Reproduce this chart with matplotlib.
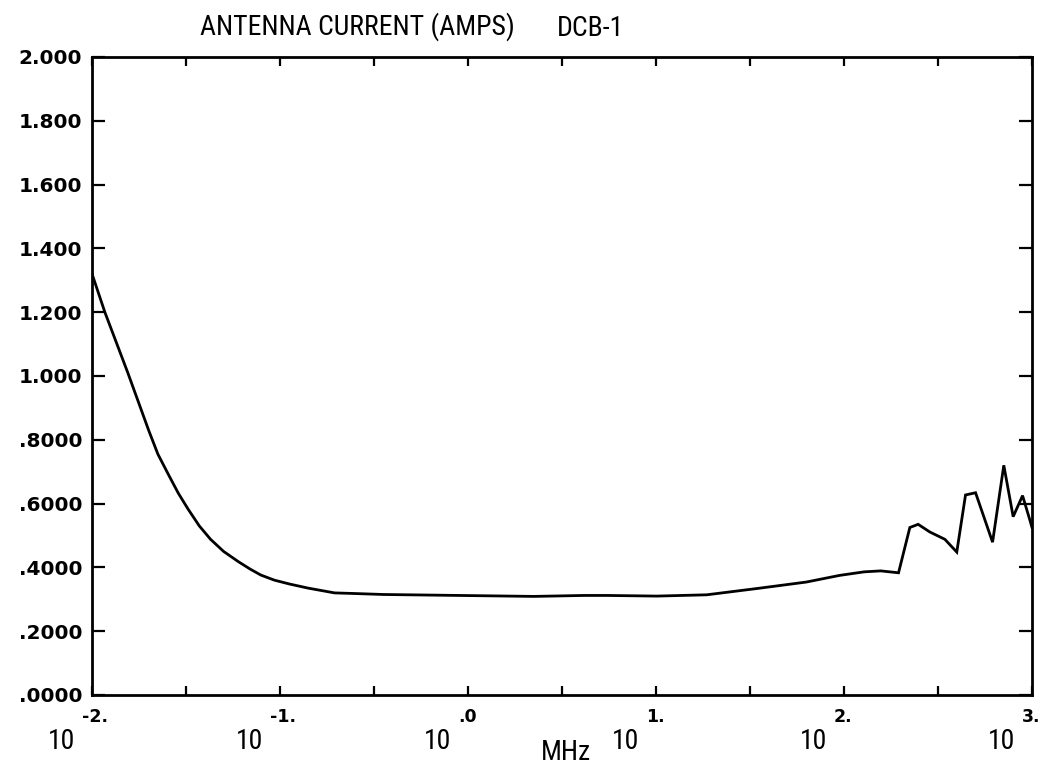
import numpy as np
import matplotlib
matplotlib.use('Agg')
import matplotlib.pyplot as plt
from matplotlib import font_manager
from matplotlib.ticker import FixedLocator, NullLocator
import matplotlib.transforms as mtransforms

# pick a narrow face for the plotter-style lettering if one is installed
_names = {f.name for f in font_manager.fontManager.ttflist}
NARROW = next((n for n in ["Roboto Condensed", "Liberation Sans Narrow",
                           "Archivo Narrow", "PT Sans Narrow",
                           "Liberation Sans", "DejaVu Sans"] if n in _names))

# ── Data ──
freq_mhz = [0.0100, 0.0117, 0.0155, 0.0200, 0.0224, 0.0257, 0.0288, 0.0324,
            0.0372, 0.0427, 0.0501, 0.0600, 0.0692, 0.0790, 0.0933, 0.112,
            0.141, 0.195, 0.251, 0.355, 0.66, 1.22, 2.24, 4.14, 5.5, 10.1,
            18.6, 34.7, 63.0, 95.0, 128.0, 157.0, 195.0, 224.0, 248.0, 286.0,
            344.0, 398.0, 443.0, 501.0, 617.0, 708.0, 794.0, 891.0, 977.0,
            1000.0]
current_amps = [1.320, 1.200, 1.010, 0.830, 0.755, 0.687, 0.632, 0.583,
                0.530, 0.488, 0.450, 0.418, 0.395, 0.376, 0.360, 0.348,
                0.335, 0.320, 0.318, 0.315, 0.313, 0.311, 0.309, 0.312, 0.312,
                0.310, 0.314, 0.334, 0.354, 0.375, 0.386, 0.389, 0.383, 0.525,
                0.535, 0.511, 0.488, 0.448, 0.627, 0.634, 0.479, 0.720, 0.559,
                0.625, 0.546, 0.525]

y_ticks = [0.0, 0.2, 0.4, 0.6, 0.8, 1.0, 1.2, 1.4, 1.6, 1.8, 2.0]
y_labels = [".0000", ".2000", ".4000", ".6000", ".8000", "1.000",
            "1.200", "1.400", "1.600", "1.800", "2.000"]
x_ticks = [10 ** (k / 2) for k in range(-4, 7)]   # every half decade
decades = [1e-2, 1e-1, 1e0, 1e1, 1e2, 1e3]
dec_exps = ["-2.", "-1.", ".0", "1.", "2.", "3."]

title = "ANTENNA CURRENT (AMPS)"
run_id = "DCB-1"

fig = plt.figure(figsize=(10.4, 7.67), dpi=100)
ax = fig.add_axes([0.0885, 0.0939, 0.9038, 0.8318])

ax.plot(freq_mhz, current_amps, color="black", lw=2.0, solid_joinstyle="miter")

ax.set_xscale("log")
ax.set_xlim(1e-2, 1e3)
ax.set_ylim(0, 2.0)

for s in ax.spines.values():
    s.set_linewidth(2.0)

ax.xaxis.set_major_locator(FixedLocator(x_ticks))
ax.xaxis.set_minor_locator(NullLocator())
ax.set_xticklabels([""] * len(x_ticks))
ax.tick_params(axis="x", which="major", direction="in", length=6.5, width=1.6,
               top=True, bottom=True)

ax.set_yticks(y_ticks)
ax.set_yticklabels(y_labels, fontsize=14.5, fontweight="bold",
                   family="DejaVu Sans")
ax.tick_params(axis="y", direction="in", length=9.5, width=1.6,
               left=True, right=True, pad=7)

# decade labels: "10" plus a plotter-style exponent
blend = mtransforms.blended_transform_factory(ax.transData, ax.transAxes)
for xv, ex in zip(decades, dec_exps):
    t10 = blend + mtransforms.ScaledTranslation(-17 / 100, -33 / 100, fig.dpi_scale_trans)
    ax.text(xv, 0, "10", transform=t10, ha="right", va="top",
            fontsize=20, family=NARROW, clip_on=False)
    tex = blend + mtransforms.ScaledTranslation(-10 / 100, -13 / 100, fig.dpi_scale_trans)
    ax.text(xv, 0, ex, transform=tex, ha="left", va="top",
            fontsize=12.5, fontweight="bold", family="DejaVu Sans", clip_on=False)

fig.text(566 / 1040, 1 - 752 / 767, "MHz", ha="center", va="center",
         fontsize=20, family=NARROW)
fig.text(200 / 1040, 1 - 27 / 767, title, ha="left", va="center",
         fontsize=20, family=NARROW)
fig.text(557 / 1040, 1 - 29 / 767, run_id, ha="left", va="center",
         fontsize=20, family=NARROW)

fig.savefig("out.png", dpi=100, facecolor="white")
